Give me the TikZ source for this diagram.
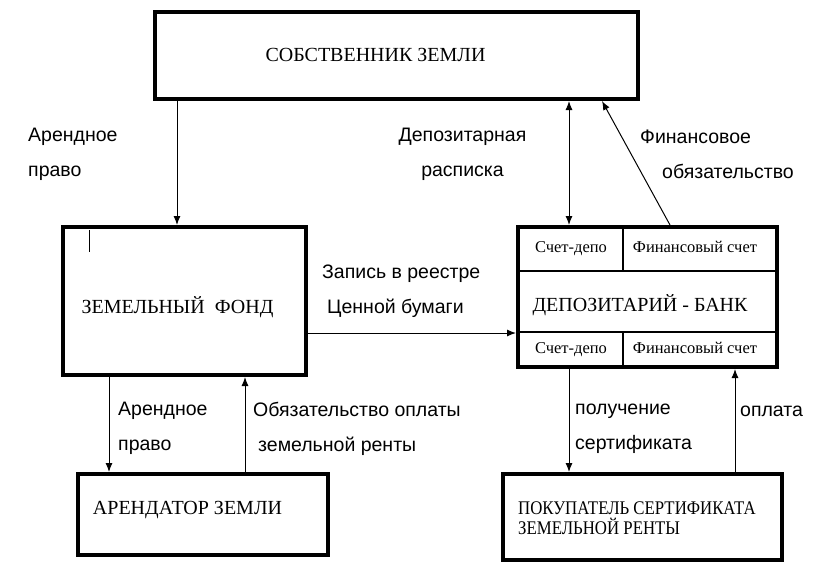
\documentclass[tikz,border=0pt]{standalone}
\usepackage{fontspec}
\setmainfont{Liberation Serif}
\setsansfont{Liberation Sans}
\newfontfamily\narrowserif[FakeStretch=0.87]{Liberation Serif}
\usetikzlibrary{calc}
\usetikzlibrary{arrows.meta}
\newcommand{\boxfont}{\fontsize{20}{22}\selectfont}
\newcommand{\cellfont}{\fontsize{16.5}{19}\selectfont}
\tikzset{
    common/.style={draw, rectangle, line width=4pt, inner sep=0pt},
    frame/.style={common},
    boxtext/.style={font=\boxfont, inner sep=0pt},
    cell/.style={font=\cellfont, inner sep=0pt, text height=11pt, text depth=4pt},
    caption/.style={font=\sffamily\fontsize{19.5}{35}\selectfont, inner sep=0pt},
    divider/.style={line width=1.5pt},
    flow/.style={-{Latex[length=9pt, width=7pt]}, line width=1pt},
    twoway/.style={{Latex[length=9pt, width=7pt]}-{Latex[length=9pt, width=7pt]}, line width=1pt}
}

\begin{document}
\begin{tikzpicture}[x=1pt, y=-1pt]
        \useasboundingbox (0,0) rectangle (821,587);

        % boxes
        \node[frame, minimum width=483, minimum height=87] (Owner) at (396.5,55.5) {};
        \node[frame, minimum width=243, minimum height=148] (Fund) at (184.5,301) {};
        \node[frame, minimum width=259, minimum height=140] (Depo) at (647.5,297) {};
        \node[frame, minimum width=250, minimum height=81] (Tenant) at (203,514.5) {};
        \node[frame, minimum width=279, minimum height=86] (Buyer) at (642.5,517) {};

        \node[boxtext] (OwnerText) at (375.5,55) {СОБСТВЕННИК ЗЕМЛИ};
        \node[boxtext] (FundText) at (177.5,307) {ЗЕМЕЛЬНЫЙ\ \ ФОНД};
        \node[boxtext] (DepoText) at (640,305) {ДЕПОЗИТАРИЙ - БАНК};
        \node[boxtext] (TenantText) at (187.5,510) {АРЕНДАТОР ЗЕМЛИ};
        \node[boxtext, anchor=west, align=left, font=\narrowserif\fontsize{19.3}{20}\selectfont] (BuyerText) at (518,518) {ПОКУПАТЕЛЬ СЕРТИФИКАТА\\ЗЕМЕЛЬНОЙ РЕНТЫ};

        % depository cells
        \draw[divider]
          ($(Depo.west)+(0,-26)$) coordinate (RowA-left) -- (RowA-left -| Depo.east)
          ($(Depo.west)+(0,35)$) coordinate (RowB-left) -- (RowB-left -| Depo.east)
          (623,0 |- Depo.north) -- (623,0 |- RowA-left)
          (623,0 |- RowB-left) -- (623,0 |- Depo.south);
        \node[cell] (DepoTopLeft) at (571,249) {Счет-депо};
        \node[cell] (DepoTopRight) at (695,249) {Финансовый счет};
        \node[cell] (DepoBottomLeft) at (571,350) {Счет-депо};
        \node[cell] (DepoBottomRight) at (695,350) {Финансовый счет};

        % stray mark
        \draw[line width=1pt] (89,230) coordinate (Mark-top) -- (89,252);

        % connectors
        \draw[flow] (Owner.south -| 177,0) -- (Fund.north -| 177,0);
        \draw[twoway] (Owner.south -| 569,0) -- (Depo.north -| 569,0);
        \draw[flow] (Depo.north -| 670,0) -- (602,0 |- Owner.south);
        \draw[flow] (Fund.east |- 0,333) -- (Depo.west |- 0,333);
        \draw[flow] (Fund.south -| 109,0) -- (Tenant.north -| 109,0);
        \draw[flow] (Tenant.north -| 245,0) -- (Fund.south -| 245,0);
        \draw[flow] (Depo.south -| 569,0) -- (Buyer.north -| 569,0);
        \draw[flow] (Buyer.north -| 735,0) -- (Depo.south -| 735,0);

        % captions
        \node[caption, anchor=west, align=left] (LeaseTop) at (28,154.5) {Арендное\\право};
        \node[caption, align=center] (Receipt) at (462.5,154.5) {Депозитарная\\расписка};
        \node[caption, anchor=west, align=left] (Liability) at (640,154.5) {Финансовое\\\hspace*{22pt}обязательство};
        \node[caption, anchor=west, align=left] (Register) at (322,291.5) {Запись в реестре\\\hspace*{5pt}Ценной бумаги};
        \node[caption, anchor=west, align=left] (LeaseBottom) at (118,428.5) {Арендное\\право};
        \node[caption, anchor=west, align=left] (Rent) at (253,428.5) {Обязательство оплаты\\\hspace*{5pt}земельной ренты};
        \node[caption, anchor=west, align=left] (Certificate) at (575,428.5) {получение\\сертификата};
        \node[caption, anchor=west] (Payment) at (740,411) {оплата};
\end{tikzpicture}
\end{document}
